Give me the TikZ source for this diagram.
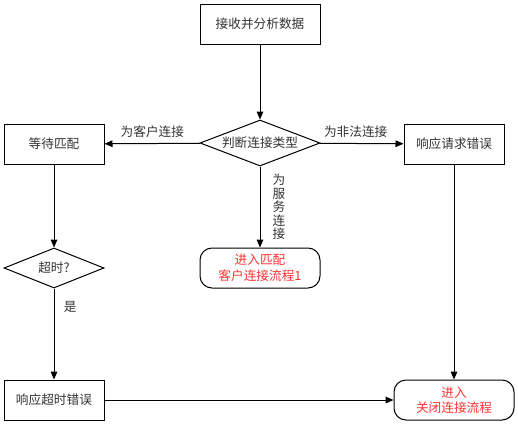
\documentclass[tikz,border=0pt]{standalone}
\usepackage{fontspec}
\newfontfamily\cjk{Noto Sans CJK SC}
\usetikzlibrary{shapes.geometric,arrows.meta}
\definecolor{txt}{HTML}{333333}
\definecolor{redtxt}{HTML}{FF3333}
\begin{document}
\begin{tikzpicture}[x=0.75pt,y=-0.75pt,
  every node/.style={font=\cjk\fontsize{9.5pt}{11.5pt}\selectfont,text=txt},
  box/.style={draw,line width=0.75pt,minimum width=75pt,minimum height=30pt,inner sep=0pt},
  rbox/.style={draw,line width=0.75pt,rounded corners=9pt,minimum width=90pt,minimum height=30pt,inner sep=0pt,align=center,text=redtxt},
  dia/.style={draw,line width=0.75pt,diamond,aspect=2.6,minimum width=90pt,minimum height=34.5pt,inner sep=0pt},
  dia2/.style={draw,line width=0.75pt,diamond,aspect=2.5,minimum width=75pt,minimum height=30pt,inner sep=0pt},
  arr/.style={draw,line width=0.75pt,-{Triangle[length=6pt,width=5pt]}},
  lab/.style={inner sep=1pt}]
\path[use as bounding box,fill=white] (0,0) rectangle (518,425);
\node[box,minimum width=90pt] (recv) at (260,24) {接收并分析数据};
\node[dia] (judge) at (260,143) {判断连接类型};
\node[box] (wait) at (54,144) {等待匹配};
\node[box] (reqerr) at (454,144) {响应请求错误};
\node[rbox] (match) at (260,268) {进入匹配\\客户连接流程1};
\node[dia2] (timeout) at (54,268) {超时?};
\node[box] (toerr) at (54,400) {响应超时错误};
\node[rbox] (close) at (454,400) {进入\\关闭连接流程};
\draw[arr] (recv) -- (judge);
\draw[arr] (judge) -- node[lab,above,yshift=3pt] {为客户连接} (wait);
\draw[arr] (judge) -- node[lab,above,yshift=3pt,pos=0.43] {为非法连接} (reqerr);
\draw[arr] (judge) -- node[lab,right,xshift=8pt,align=center,font=\cjk\fontsize{9.5pt}{10.2pt}\selectfont] {为\\服\\务\\连\\接} (match);
\draw[arr] (wait) -- (timeout);
\draw[arr] (timeout) -- node[lab,right,xshift=6pt,pos=0.2] {是} (toerr);
\draw[arr] (toerr) -- (close);
\draw[arr] (reqerr) -- (close);
\end{tikzpicture}
\end{document}
